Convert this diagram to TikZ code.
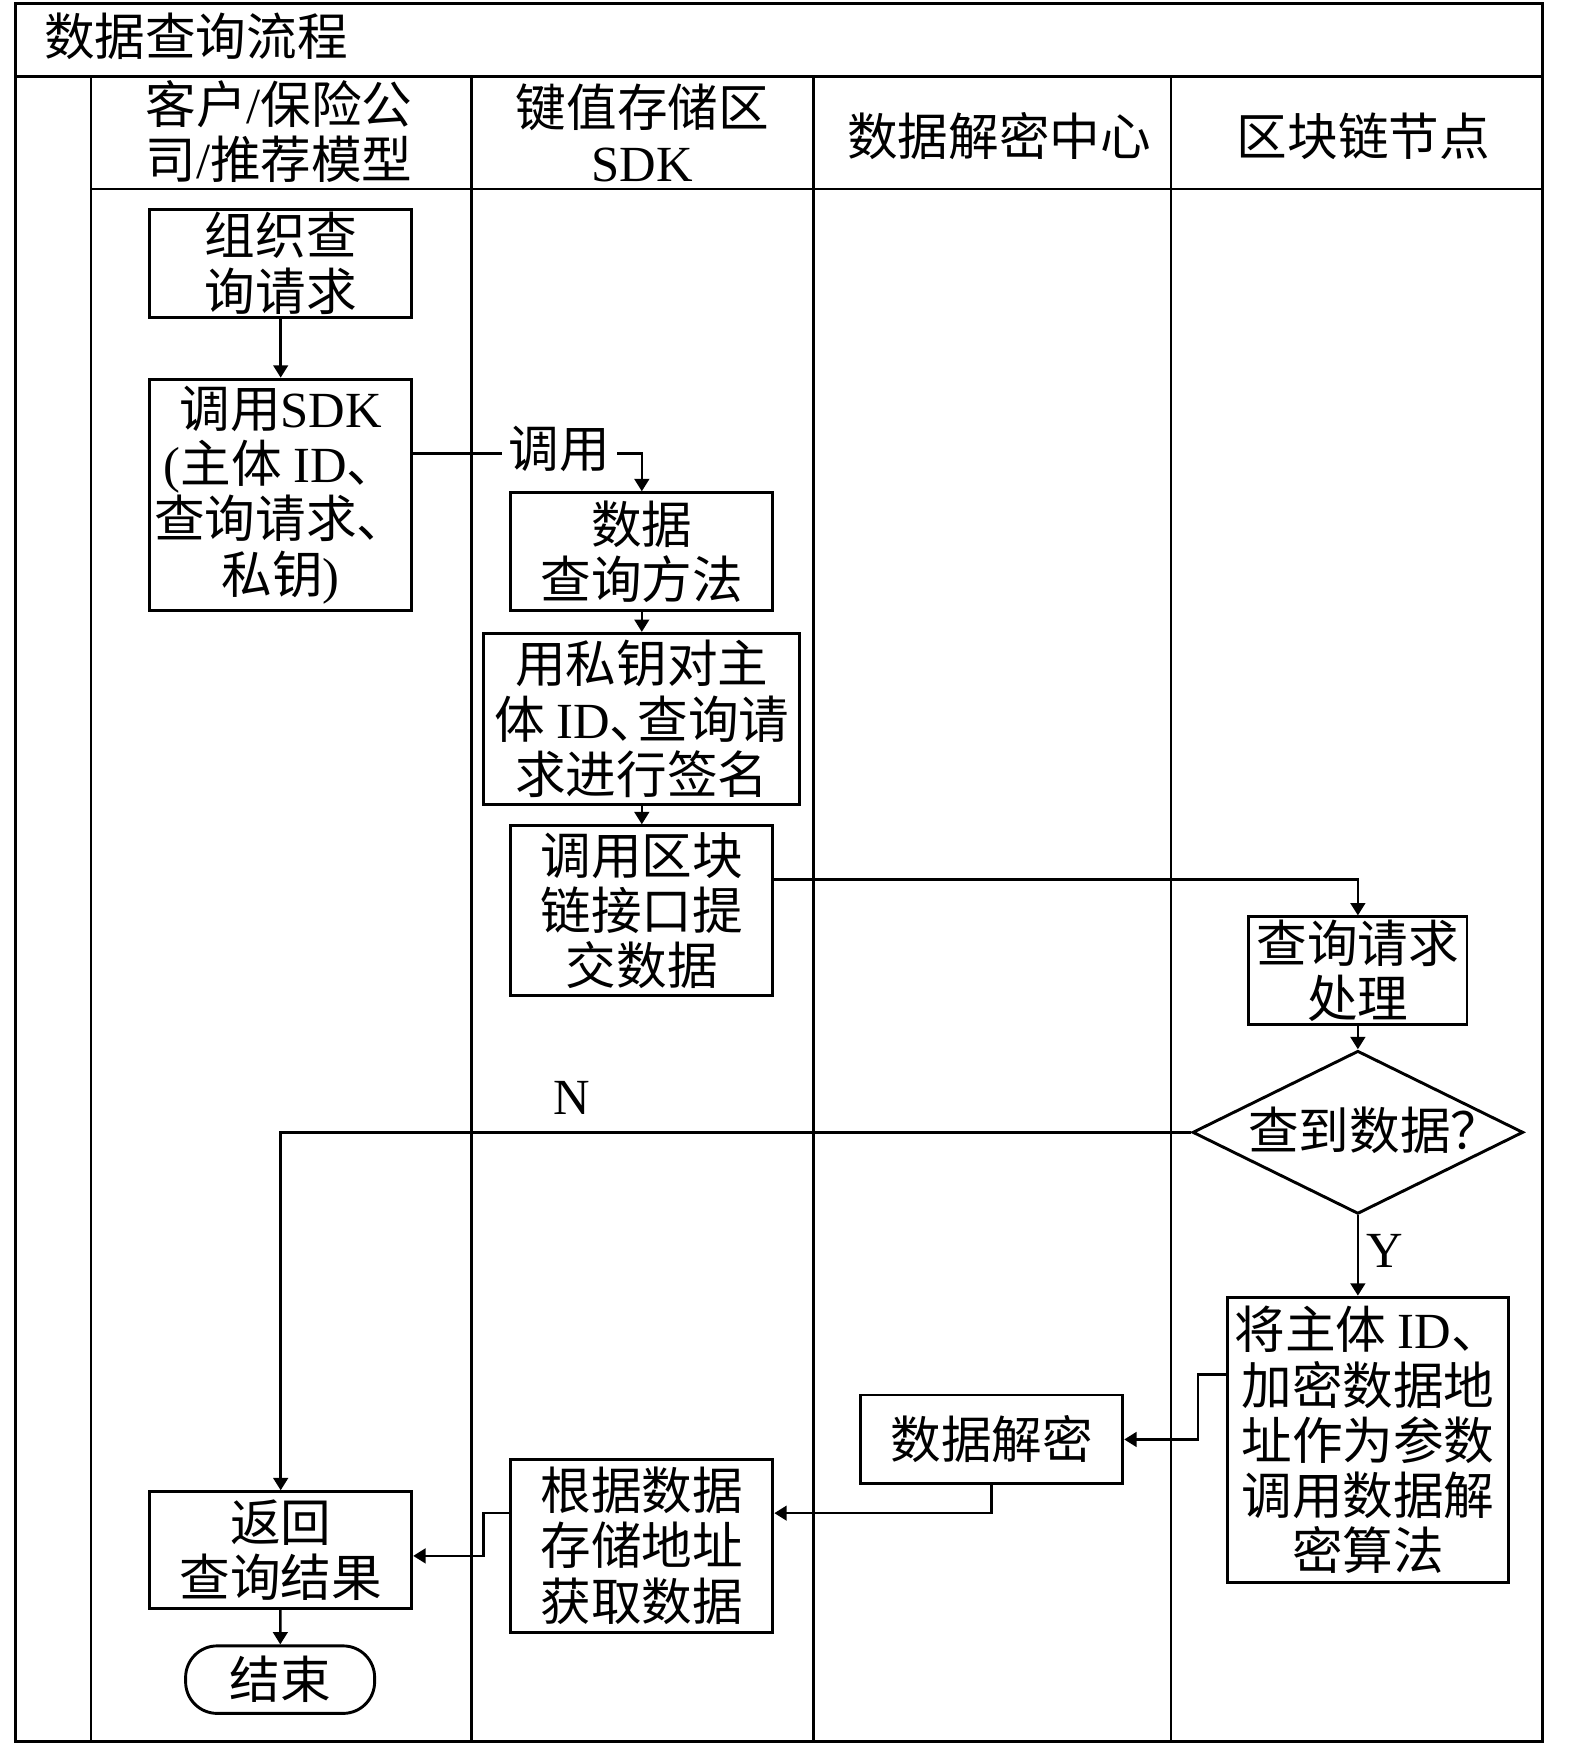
\documentclass[tikz,border=0pt]{standalone}
\usepackage{fontspec}
\setmainfont{Liberation Serif}
\newfontfamily\cjk{Noto Sans CJK SC}
\usetikzlibrary{shapes.geometric,arrows.meta}

\newcommand{\lat}[1]{{\rmfamily #1}}
\newcommand{\dunhao}{、\kern-0.45em}

\tikzset{every picture/.style={line width=2.4pt}}
\tikzset{
  txt/.style={inner sep=0pt, align=center, font=\cjk\fontsize{45}{49}\selectfont},
  box/.style={txt, draw, line width=2.6pt},
  endbox/.style={box, rounded corners=28pt},
  decision/.style={draw, shape=diamond, line width=2.6pt, inner sep=0pt, minimum width=294pt, minimum height=145pt},
  arr/.style={line width=2.3pt, -{Triangle[length=11pt,width=13pt]}},
  frame/.style={line width=2.6pt},
  lane/.style={line width=2.4pt}
}

\begin{document}
\begin{tikzpicture}[x=1pt,y=1pt,yscale=-1,xscale=1]
	\useasboundingbox (0,0) rectangle (1400,1568);

	%Shape: Rectangle (outer frame)
	\draw [frame] (14,3) rectangle (1371,1548);
	%Straight Lines (title row, header row, lanes)
	\draw [frame] (14,68) -- (1371,68);
	\draw [lane] (81,68) -- (81,1548);
	\draw [lane] (81,168) -- (1371,168);
	\draw [lane] (419,68) -- (419,1548);
	\draw [lane] (723,68) -- (723,1548);
	\draw [lane] (1041,68) -- (1041,1548);

	% Text Node
	\draw (38,32) node [txt, anchor=west] (title) {数据查询流程};
	% Text Node
	\draw (248,117) node [txt] (hclient) {客户\lat{/}保险公\\司\lat{/}推荐模型};
	% Text Node
	\draw (571,118) node [txt] (hsdk) {键值存储区\\\lat{SDK}};
	% Text Node
	\draw (888,121) node [txt] (hdecrypt) {数据解密中心};
	% Text Node
	\draw (1212,121) node [txt] (hchain) {区块链节点};

	%Shape: Rectangle
	\draw (249.5,234) node [box, minimum width=233pt, minimum height=96pt] (organize) {组织查\\询请求};
	%Shape: Rectangle
	\draw (249.5,440) node [box, minimum width=233pt, minimum height=206pt] (callsdk) {调用\lat{SDK}\\\lat{(}主体 \lat{ID}、\\查询请求、\\私钥\lat{)}};
	%Shape: Rectangle
	\draw (570.5,490.5) node [box, minimum width=233pt, minimum height=105pt] (method) {数据\\查询方法};
	%Shape: Rectangle
	\draw (570.5,639) node [box, minimum width=281pt, minimum height=152pt] (sign) {用私钥对主\\体 \lat{ID}\dunhao 查询请\\求进行签名};
	%Shape: Rectangle
	\draw (570.5,809.5) node [box, minimum width=233pt, minimum height=151pt] (submit) {调用区块\\链接口提\\交数据};
	%Shape: Rectangle
	\draw (1207,863) node [box, minimum width=194pt, minimum height=96pt] (process) {查询请求\\处理};
	%Shape: Diamond
	\draw (1207,1006.5) node [decision, label={[txt, xshift=15pt, yshift=2pt]center:查到数据？}] (found) {};
	%Shape: Rectangle
	\draw (1216,1280) node [box, minimum width=250pt, minimum height=254pt] (callalg) {将主体 \lat{ID}、\\加密数据地\\址作为参数\\调用数据解\\密算法};
	%Shape: Rectangle
	\draw (881.5,1279.5) node [box, minimum width=233pt, minimum height=79pt] (decrypt) {数据解密};
	%Shape: Rectangle
	\draw (570.5,1374) node [box, minimum width=233pt, minimum height=154pt] (fetch) {根据数据\\存储地址\\获取数据};
	%Shape: Rectangle
	\draw (249.5,1378) node [box, minimum width=233pt, minimum height=104pt] (result) {返回\\查询结果};
	%Shape: Rounded Rectangle
	\draw (249,1493) node [endbox, minimum width=168pt, minimum height=60pt] (finish) {结束};

	%Straight Lines
	\coordinate (callpt) at (497,403);
	\coordinate (t1) at (1207,782);
	\coordinate (t2) at (1065,1222);
	\coordinate (t3) at (0,1345);
	\coordinate (t4) at (430,1345);
	\coordinate (t5) at (430,1383);

	\draw [arr] (organize) -- (callsdk);
	\draw [arr] (callsdk.east |- callpt) -- (callpt -| method.north) -- (method.north);
	\draw (497,399) node [txt, fill=white, inner xsep=6pt, inner ysep=2pt] (calltxt) {调用};
	\draw [arr] (method) -- (sign);
	\draw [arr] (sign) -- (submit);
	\draw [arr] (submit.east |- t1) -- (t1) -- (process.north);
	\draw [arr] (process) -- (found);
	\draw [arr] (found.south) -- (found.south |- callalg.north);
	\draw [arr] (found.west) -- (found.west -| result.north) -- (result.north);
	\draw [arr] (callalg.west |- t2) -- (t2) -- (t2 |- decrypt.east) -- (decrypt.east);
	\draw [arr] (decrypt.south) -- (decrypt.south |- t3) -- (fetch.east |- t3);
	\draw [arr] (fetch.west |- t4) -- (t4) -- (t5) -- (t5 -| result.east);
	\draw [arr] (result) -- (finish);

	% Text Node
	\draw (508,976) node [txt] (nlabel) {\lat{N}};
	% Text Node
	\draw (1231,1112) node [txt] (ylabel) {\lat{Y}};

\end{tikzpicture}
\end{document}
